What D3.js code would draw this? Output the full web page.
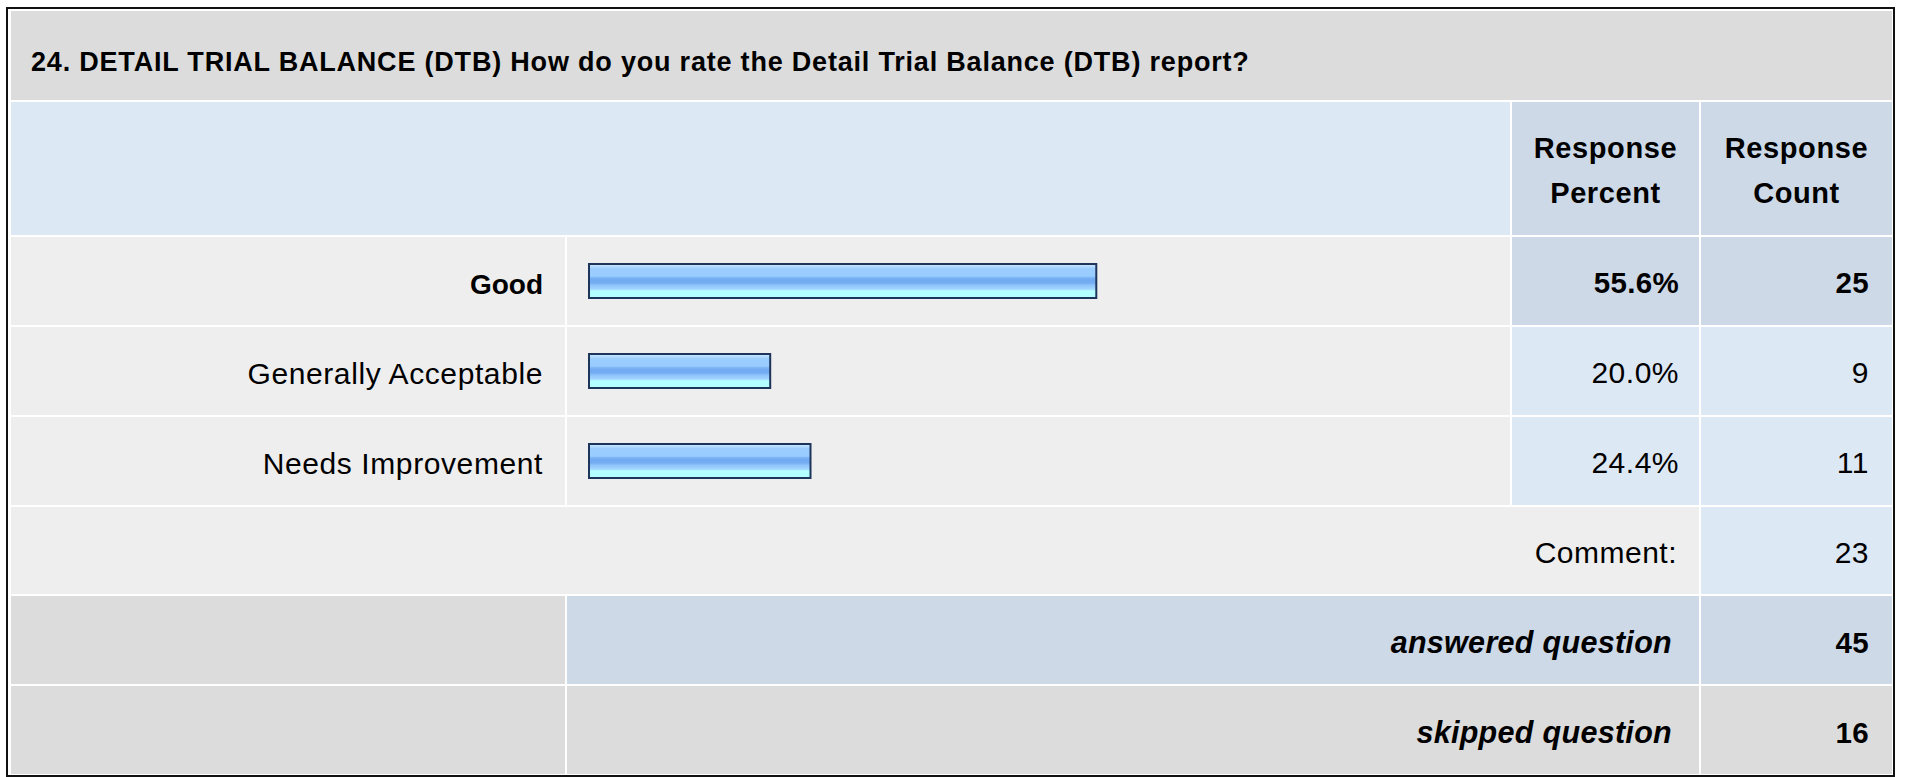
<!DOCTYPE html>
<html>
<head>
<meta charset="utf-8">
<script src="https://cdn.jsdelivr.net/npm/d3@7"></script>
<style>
  html, body { margin: 0; padding: 0; background: #ffffff; }
  svg { display: block; }
  text { font-family: "Liberation Sans", Arial, Helvetica, sans-serif; fill: #000; }
</style>
</head>
<body>
<script>
// ---- data ----
const title = "24. DETAIL TRIAL BALANCE (DTB) How do you rate the Detail Trial Balance (DTB) report?";
const columnHeaders = [["Response", "Percent"], ["Response", "Count"]];
const categories = ["Good", "Generally Acceptable", "Needs Improvement"];
const percents = [55.6, 20.0, 24.4];
const counts = [25, 9, 11];
const summaryLabels = ["Comment:", "answered question", "skipped question"];
const summaryCounts = [23, 45, 16];

// ---- layout ----
const W = 1907, H = 777;
const svg = d3.select("body").append("svg").attr("width", W).attr("height", H);

const C = {
  white: "#ffffff",
  gray: "#dcdcdc",
  light: "#eeeeee",
  blue: "#dde8f5",
  blueGray: "#cdd9e7",
  barStroke: "#1d355a"
};

// table columns: label | bar | percent | count
const col = [
  { x0: 11, x1: 565 },
  { x0: 567, x1: 1510 },
  { x0: 1512, x1: 1699 },
  { x0: 1701, x1: 1892 }
];

// category rows placed with a band scale (88px rows, 2px white gutters)
const y = d3.scaleBand()
  .domain(categories)
  .range([236, 506])
  .paddingInner(2 / 90)
  .paddingOuter(1 / 90);

// bar length scale (percent -> px)
const x = d3.scaleLinear().domain([0, 100]).range([588, 588 + 916]);

const defs = svg.append("defs");
const grad = defs.append("linearGradient")
  .attr("id", "barFill").attr("x1", 0).attr("y1", 0).attr("x2", 0).attr("y2", 1);
[
  [0, "#d4eaff"], [0.07, "#b4dcff"], [0.14, "#9ccdff"], [0.36, "#99ccff"],
  [0.40, "#7db6f6"], [0.46, "#71aaf1"], [0.56, "#74adf2"], [0.62, "#8ec3fb"],
  [0.74, "#a3d6ff"], [0.79, "#b3ffff"], [1, "#b3ffff"]
].forEach(([o, c]) => grad.append("stop").attr("offset", o).attr("stop-color", c));

function cell(x0, x1, y0, y1, fill) {
  svg.append("rect").attr("x", x0).attr("y", y0)
    .attr("width", x1 - x0).attr("height", y1 - y0).attr("fill", fill);
}

function label(txt, xPos, yPos, opts = {}) {
  const bold = !!opts.bold;
  return svg.append("text")
    .attr("x", xPos).attr("y", yPos)
    .attr("text-anchor", opts.anchor || "end")
    .attr("font-size", opts.size || (bold ? 29.5 : 30))
    .attr("font-weight", bold ? "bold" : "normal")
    .attr("font-style", opts.italic ? "italic" : "normal")
    .attr("letter-spacing", opts.ls != null ? opts.ls : (bold ? 0.3 : 0.5))
    .text(txt);
}

// outer frame
svg.append("rect").attr("x", 7).attr("y", 8).attr("width", 1887).attr("height", 768)
  .attr("fill", C.white).attr("stroke", "#111").attr("stroke-width", 2);

// title row
cell(11, 1892, 11, 100, C.gray);
label(title, 31, 71, { anchor: "start", bold: true, size: 27, ls: 0.8 });

// column header row
cell(col[0].x0, col[1].x1, 102, 235, C.blue);
columnHeaders.forEach((lines, i) => {
  const c = col[i + 2];
  cell(c.x0, c.x1, 102, 235, C.blueGray);
  const cx = (c.x0 + c.x1) / 2;
  lines.forEach((t, j) => label(t, cx, 158 + j * 45, { anchor: "middle", bold: true, size: 29, ls: 0.6 }));
});

// category rows
categories.forEach((cat, i) => {
  const top = y(cat), bot = top + y.bandwidth();
  const best = percents[i] === d3.max(percents);
  cell(col[0].x0, col[0].x1, top, bot, C.light);
  cell(col[1].x0, col[1].x1, top, bot, C.light);
  cell(col[2].x0, col[2].x1, top, bot, best ? C.blueGray : C.blue);
  cell(col[3].x0, col[3].x1, top, bot, best ? C.blueGray : C.blue);

  label(cat, col[0].x1 - 22, top + 57, { bold: best, size: best ? 28 : 30, ls: best ? 0 : 0.6 });
  label(d3.format(".1f")(percents[i]) + "%", col[2].x1 - 20, top + 56, { bold: best });
  label(String(counts[i]), col[3].x1 - 23, top + 56, { bold: best });
});

// bars
svg.selectAll("rect.bar")
  .data(categories)
  .join("rect")
  .attr("class", "bar")
  .attr("x", x(0) + 1)
  .attr("y", d => y(d) + 27)
  .attr("width", (d, i) => x(percents[i]) - x(0) - 2)
  .attr("height", 34)
  .attr("fill", "url(#barFill)")
  .attr("stroke", C.barStroke)
  .attr("stroke-width", 2);

// summary rows
const sumRows = [[507, 594], [596, 684], [686, 774]];
// Comment row
cell(col[0].x0, col[2].x1, sumRows[0][0], sumRows[0][1], C.light);
cell(col[3].x0, col[3].x1, sumRows[0][0], sumRows[0][1], C.blue);
label(summaryLabels[0], col[2].x1 - 22, sumRows[0][0] + 56);
label(String(summaryCounts[0]), col[3].x1 - 23, sumRows[0][0] + 56);

// answered / skipped rows
[1, 2].forEach(k => {
  const [t, b] = sumRows[k];
  const mid = k === 1 ? C.blueGray : C.gray;
  cell(col[0].x0, col[0].x1, t, b, C.gray);
  cell(col[1].x0, col[2].x1, t, b, mid);
  cell(col[3].x0, col[3].x1, t, b, mid);
  label(summaryLabels[k], col[2].x1 - 27, t + 57, { bold: true, italic: true, size: 30.5, ls: 0.3 });
  label(String(summaryCounts[k]), col[3].x1 - 23, t + 57, { bold: true });
});
</script>
</body>
</html>
